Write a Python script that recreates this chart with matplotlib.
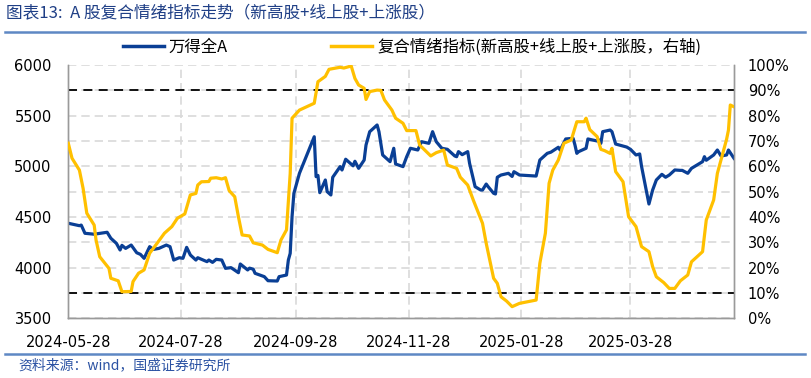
import matplotlib
matplotlib.use("Agg")
import matplotlib.pyplot as plt
import matplotlib.dates as mdates
import pandas as pd
from matplotlib.lines import Line2D

# ---------------- data ----------------
wind_dates = ["2024-05-28","2024-06-03","2024-06-04","2024-06-06","2024-06-11","2024-06-18","2024-06-20",
    "2024-06-23","2024-06-25","2024-06-26","2024-06-28","2024-07-01","2024-07-04","2024-07-06","2024-07-08",
    "2024-07-11","2024-07-13","2024-07-16","2024-07-20","2024-07-22","2024-07-24","2024-07-27","2024-07-29",
    "2024-07-31","2024-08-02","2024-08-05","2024-08-06","2024-08-09","2024-08-11","2024-08-12","2024-08-14",
    "2024-08-16","2024-08-19","2024-08-21","2024-08-24","2024-08-28","2024-08-29","2024-09-02","2024-09-03",
    "2024-09-05","2024-09-06","2024-09-11","2024-09-13","2024-09-18","2024-09-19","2024-09-23","2024-09-24",
    "2024-09-25","2024-09-26","2024-09-27","2024-09-30","2024-10-08","2024-10-09","2024-10-10","2024-10-11",
    "2024-10-14","2024-10-15","2024-10-17","2024-10-18","2024-10-22","2024-10-23","2024-10-25","2024-10-29",
    "2024-10-30","2024-11-01","2024-11-04","2024-11-05","2024-11-07","2024-11-08","2024-11-11","2024-11-12",
    "2024-11-14","2024-11-18","2024-11-20","2024-11-21","2024-11-25","2024-11-27","2024-11-29","2024-12-03",
    "2024-12-05","2024-12-09","2024-12-11","2024-12-13","2024-12-16","2024-12-19","2024-12-23","2024-12-24",
    "2024-12-25","2024-12-27","2024-12-30","2024-12-31","2025-01-03","2025-01-06","2025-01-07","2025-01-09",
    "2025-01-10","2025-01-13","2025-01-14","2025-01-15","2025-01-17","2025-01-21","2025-01-23","2025-01-24",
    "2025-01-27","2025-02-05","2025-02-07","2025-02-11","2025-02-13","2025-02-17","2025-02-18","2025-02-21",
    "2025-02-25","2025-02-26","2025-02-27","2025-02-28","2025-03-04","2025-03-05","2025-03-10","2025-03-11",
    "2025-03-12","2025-03-13","2025-03-17","2025-03-18","2025-03-20","2025-03-24","2025-03-26","2025-03-28",
    "2025-03-31","2025-04-02","2025-04-03","2025-04-07","2025-04-09","2025-04-11","2025-04-14","2025-04-16",
    "2025-04-18","2025-04-21","2025-04-24","2025-04-25","2025-04-28","2025-04-30","2025-05-06","2025-05-07",
    "2025-05-08","2025-05-12","2025-05-14","2025-05-16","2025-05-19","2025-05-20","2025-05-23"]
wind_values = [4438,4414,4420,4339,4330,4349,4290,
    4240,4174,4220,4190,4223,4147,4131,4092,
    4207,4180,4190,4223,4207,4075,4098,4092,
    4200,4125,4075,4098,4075,4059,4075,4052,
    4082,4075,3993,4000,3950,4036,3977,3995,
    3985,3944,3911,3871,3868,3911,3927,4075,
    4141,4503,4734,4931,5292,4898,4910,4740,
    4865,4750,4717,4892,4997,4964,5070,5005,
    5050,4980,5062,5210,5342,5358,5408,5342,
    5112,5046,5178,5023,4997,5095,5178,5161,
    5243,5227,5342,5243,5178,5168,5102,5095,
    5145,5115,5145,5030,4799,4766,4766,4825,
    4800,4734,4727,4892,4914,4931,4900,4947,
    4914,4904,5062,5128,5140,5188,5160,5270,
    5276,5210,5128,5145,5178,5270,5250,5260,
    5227,5342,5358,5342,5220,5200,5190,5168,
    5112,5122,5000,4628,4766,4865,4921,4892,
    4914,4964,4960,4960,4931,4980,5046,5095,
    5060,5112,5161,5102,5112,5161,5079]

senti_dates = ["2024-05-28","2024-05-30","2024-06-03","2024-06-05","2024-06-07","2024-06-11","2024-06-12",
    "2024-06-14","2024-06-19","2024-06-20","2024-06-24","2024-06-26","2024-07-01","2024-07-02","2024-07-05",
    "2024-07-08","2024-07-11","2024-07-15","2024-07-19","2024-07-23","2024-07-26","2024-07-30","2024-08-02",
    "2024-08-05","2024-08-06","2024-08-08","2024-08-12","2024-08-13","2024-08-16","2024-08-19","2024-08-21",
    "2024-08-23","2024-08-26","2024-08-28","2024-08-30","2024-09-03","2024-09-05","2024-09-10","2024-09-13",
    "2024-09-18","2024-09-20","2024-09-23","2024-09-25","2024-09-26","2024-09-30","2024-10-08","2024-10-10",
    "2024-10-14","2024-10-16","2024-10-22","2024-10-24","2024-10-28","2024-10-30","2024-11-01","2024-11-04",
    "2024-11-05","2024-11-07","2024-11-11","2024-11-13","2024-11-15","2024-11-19","2024-11-21","2024-11-25",
    "2024-11-27","2024-12-02","2024-12-04","2024-12-10","2024-12-13","2024-12-17","2024-12-19","2024-12-24",
    "2024-12-26","2024-12-30","2025-01-02","2025-01-07","2025-01-09","2025-01-13","2025-01-15","2025-01-17",
    "2025-01-20","2025-01-23","2025-01-27","2025-02-05","2025-02-07","2025-02-10","2025-02-12","2025-02-14",
    "2025-02-17","2025-02-20","2025-02-24","2025-02-27","2025-03-03","2025-03-04","2025-03-06","2025-03-10",
    "2025-03-12","2025-03-14","2025-03-17","2025-03-18","2025-03-20","2025-03-24","2025-03-27","2025-03-31",
    "2025-04-03","2025-04-07","2025-04-09","2025-04-11","2025-04-15","2025-04-18","2025-04-21","2025-04-24",
    "2025-04-28","2025-04-30","2025-05-06","2025-05-08","2025-05-12","2025-05-14","2025-05-19","2025-05-20",
    "2025-05-21","2025-05-23"]
senti_values = [69.1,63.2,58.5,51.3,41.5,36.8,30.9,
    24.3,19.7,15.8,14.8,10.5,10.6,14.5,17.8,
    19.1,25.7,29.6,33.6,36.2,39.5,41.2,48.7,
    49.3,52.6,53.9,54.0,55.3,55.5,55.0,55.5,
    50.4,48.0,40.1,32.9,32.5,29.8,28.9,27.2,
    25.9,30.9,34.9,57.2,79.0,82.2,84.9,93.4,
    95.5,98.3,99.1,98.8,99.6,94.7,92.1,90.8,
    86.4,89.5,90.1,90.0,86.2,82.2,79.0,77.0,
    74.1,74.1,68.4,64.1,65.4,66.4,60.5,59.2,
    55.7,52.6,46.7,37.5,29.6,15.8,13.8,8.5,
    6.8,4.6,5.9,7.2,21.7,33.6,53.3,58.5,
    62.5,69.1,70.4,77.6,77.6,79.0,74.5,71.7,
    66.7,66.2,65.1,67.1,57.9,53.9,40.1,36.2,
    28.3,26.3,20.4,16.4,14.1,11.8,11.8,14.8,
    17.1,22.3,26.3,38.8,46.7,57.2,70.7,74.3,
    84.2,83.5]

tick_dates = ["2024-05-28","2024-07-28","2024-09-28","2024-11-28","2025-01-28","2025-03-28"]
upper_ref = 90   # %
lower_ref = 10   # %

title = "图表13:  A 股复合情绪指标走势（新高股+线上股+上涨股）"
source = "资料来源：wind，国盛证券研究所"
label_wind = "万得全A"
label_senti = "复合情绪指标(新高股+线上股+上涨股，右轴)"

# ---------------- plot ----------------
plt.rcParams['font.family'] = ['DejaVu Sans', 'Noto Sans CJK SC']
CJK = ['Noto Sans CJK SC', 'DejaVu Sans']

BLUE = '#0A3F95'
GOLD = '#FFC000'
GRID = '#D9D9D9'
TXT = '#1F3F86'

fig = plt.figure(figsize=(8.11, 3.78), dpi=100)
ax = fig.add_axes([68.3/811, 1-318.3/378, (734-68.3)/811, (318.3-65)/378])
ax2 = ax.twinx()

wd = pd.to_datetime(wind_dates)
sd = pd.to_datetime(senti_dates)
td = pd.to_datetime(tick_dates)

ax.plot(wd, wind_values, color=BLUE, lw=2.3, solid_joinstyle='round', zorder=3)
ax2.axhline(upper_ref, color='black', lw=1.3, ls=(0, (5, 3.5)), zorder=2)
ax2.axhline(lower_ref, color='black', lw=1.3, ls=(0, (5, 3.5)), zorder=2)
ax2.plot(sd, senti_values, color=GOLD, lw=2.3, solid_joinstyle='round', zorder=3)

ax.set_xlim(wd[0], wd[-1])
ax.set_ylim(3500, 6000)
ax2.set_ylim(0, 100)
ax.set_yticks(range(3500, 6001, 500))
ax.set_yticks(range(3750, 6001, 500), minor=True)
ax2.set_yticks(range(0, 101, 10))
ax2.set_yticklabels([f"{v}%" for v in range(0, 101, 10)])
ax.set_xticks(td)
ax.xaxis.set_major_formatter(mdates.DateFormatter('%Y-%m-%d'))

ax.grid(True, which='both', axis='both', color=GRID, ls=(0, (5, 3)), lw=1.2, zorder=0)
ax.set_axisbelow(True)

for a in (ax, ax2):
    a.spines['top'].set_visible(False)
    for s in ('left', 'right', 'bottom'):
        a.spines[s].set_color('#9A9A9A')
        a.spines[s].set_linewidth(1.0)
ax.tick_params(axis='both', which='both', length=0, labelsize=10.5, colors='black')
ax.tick_params(axis='x', pad=12)
ax.tick_params(axis='y', pad=12)
ax2.tick_params(axis='y', length=0, labelsize=10.5, pad=10)

# legend
handles = [Line2D([], [], color=BLUE, lw=2.5), Line2D([], [], color=GOLD, lw=2.5)]
fig.legend(handles, [label_wind, label_senti], loc='center', bbox_to_anchor=(0.508, 1-47/378),
           ncol=2, frameon=False, prop={'family': CJK, 'size': 11.8},
           handlelength=2.5, handletextpad=0.3, columnspacing=6.3)

# header / footer
fig.text(6/811, 1-14/378, title, family=CJK, fontsize=12, color=TXT, va='center', ha='left')
fig.add_artist(Line2D([5/811, 805/811], [1-32/378, 1-32/378], color='#5E88C4', lw=1.8))
fig.add_artist(Line2D([5/811, 805/811], [1-354/378, 1-354/378], color='#5E88C4', lw=1.8))
fig.text(18/811, 1-365/378, source, family=CJK, fontsize=10, color='#2B52A3', va='center', ha='left')

fig.savefig('out.png', dpi=100)
